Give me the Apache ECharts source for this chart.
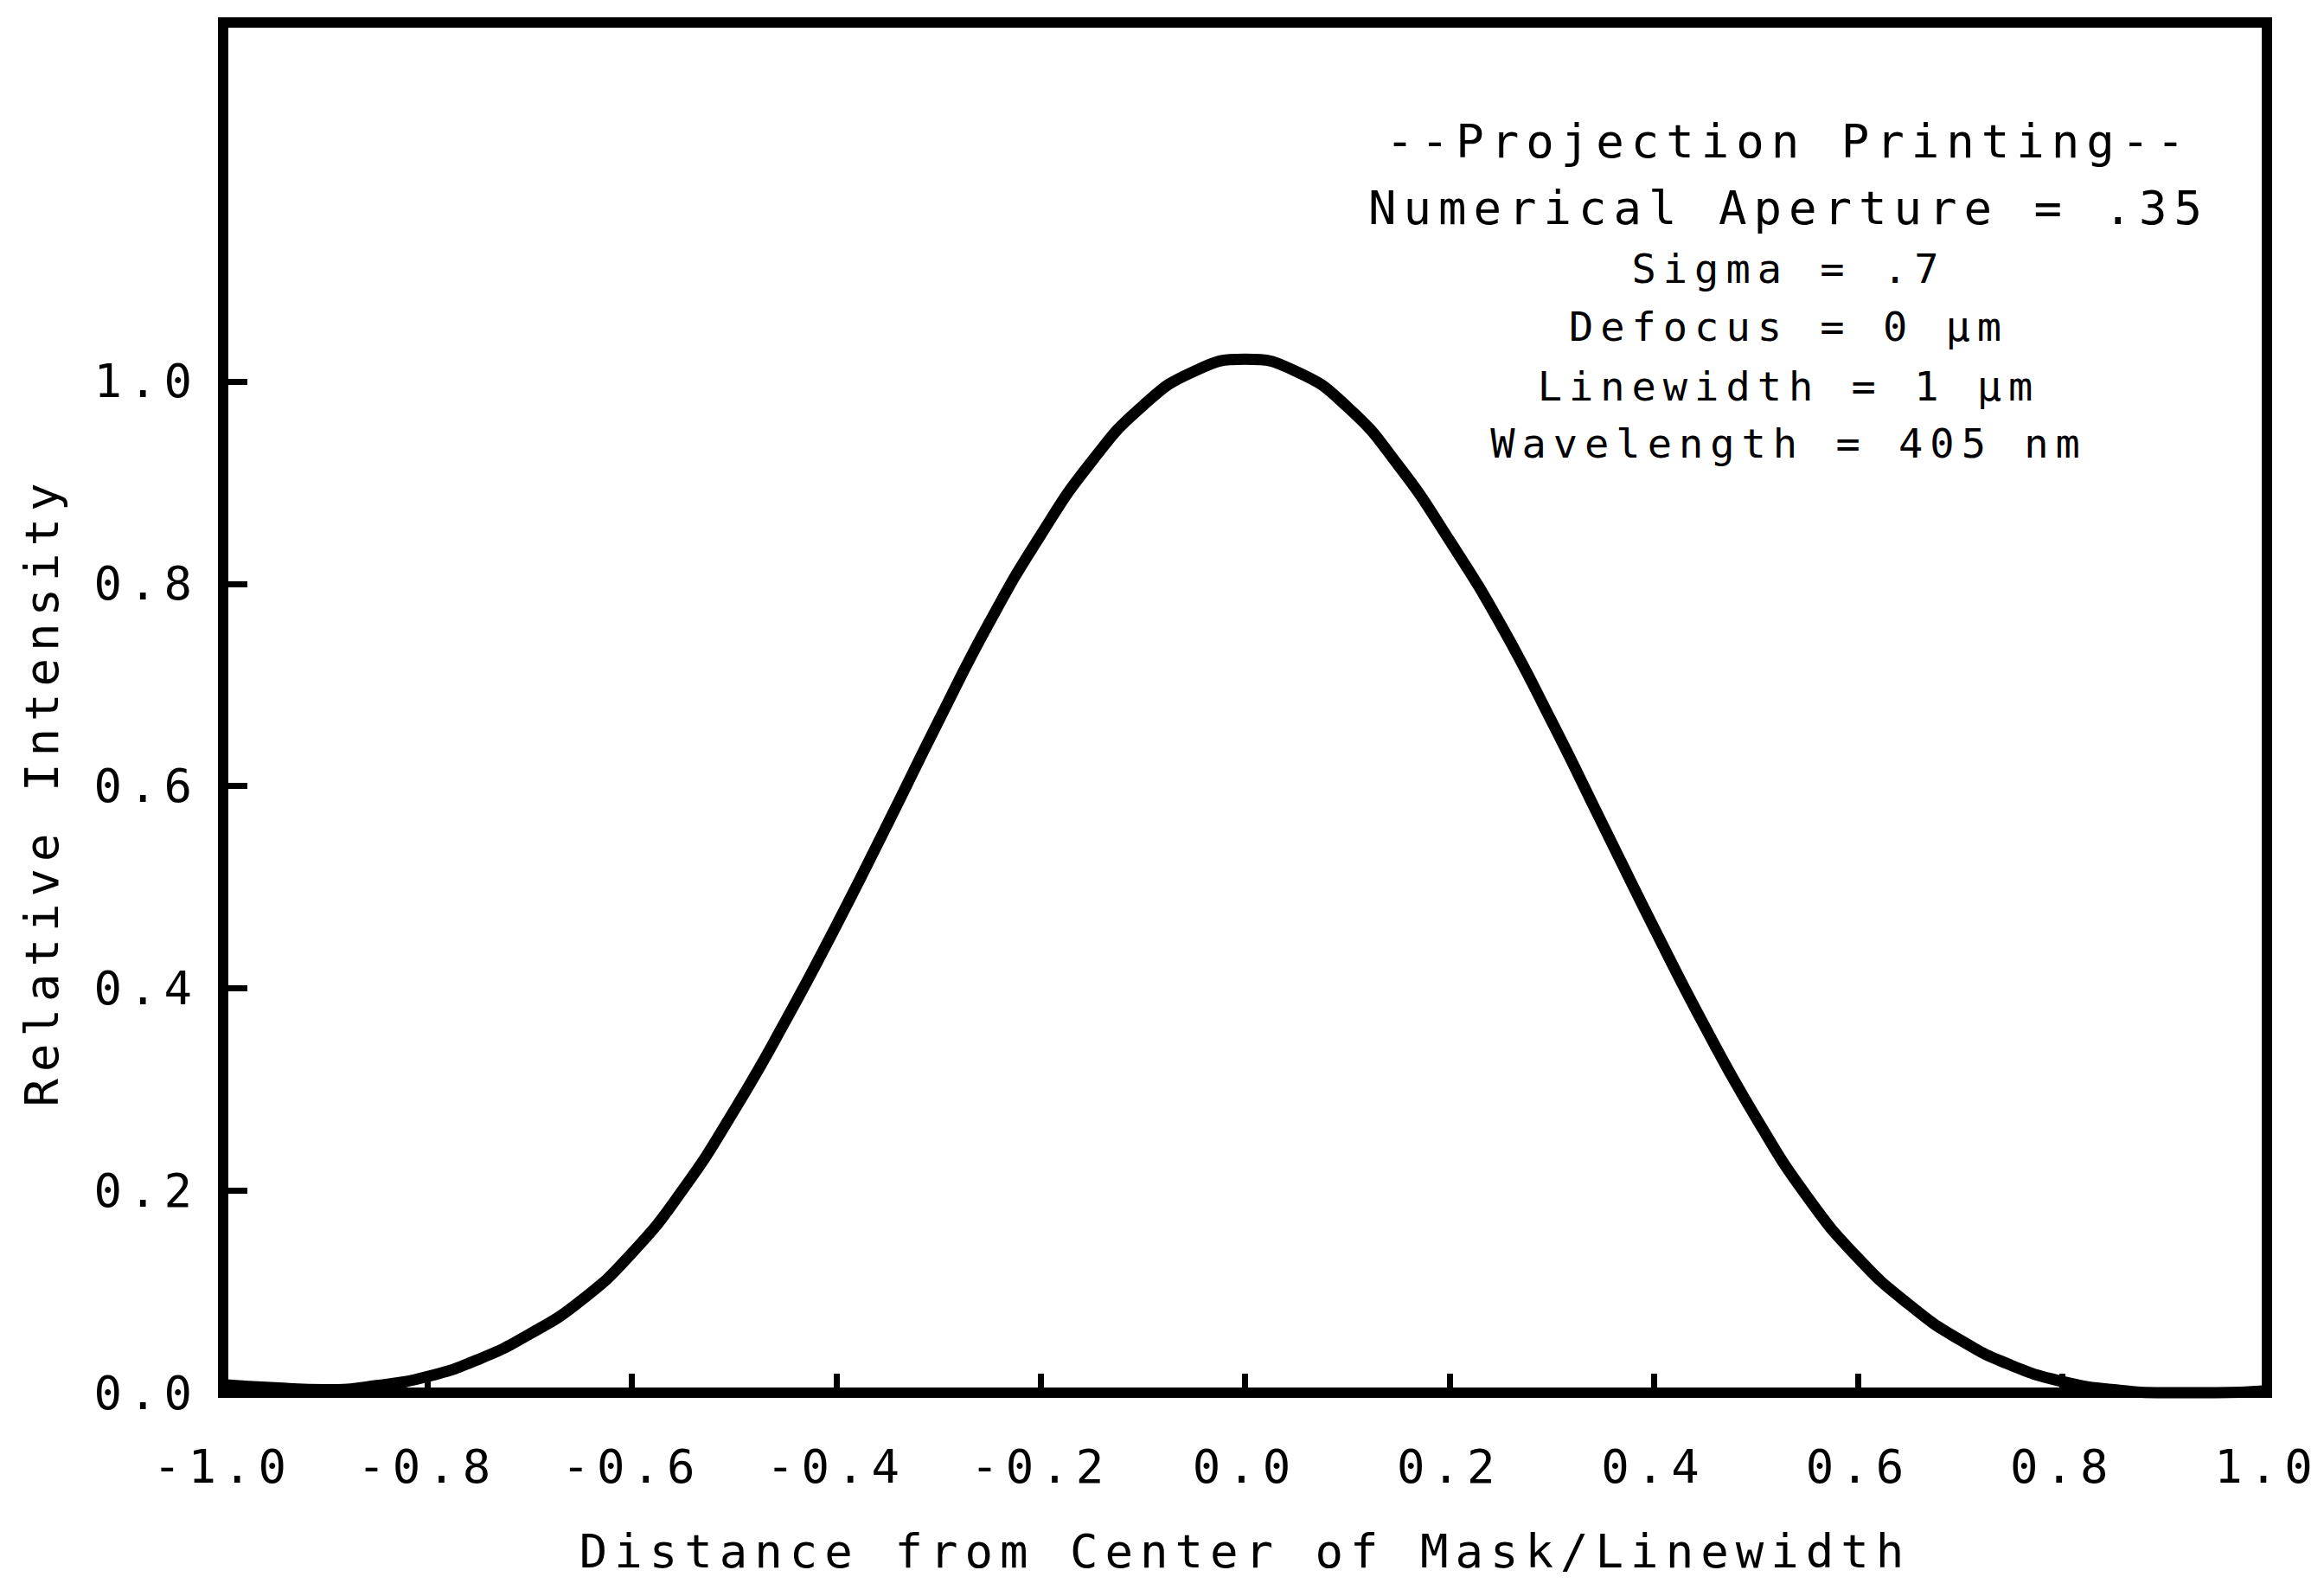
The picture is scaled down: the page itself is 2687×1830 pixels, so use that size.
<!DOCTYPE html>
<html>
<head>
<meta charset="utf-8" />
<title>Projection Printing - Relative Intensity</title>
<script src="https://cdn.jsdelivr.net/npm/echarts@6/dist/echarts.min.js"></script>
<style>
html, body { margin: 0; padding: 0; background: #fff; }
#main { width: 2687px; height: 1830px; }
/* plotter font is spaced out wide */
#main text { letter-spacing: 8px; }
</style>
</head>
<body>
<div id="main"></div>
<script>
// distance from center of mask / linewidth
var positions = [-1.00, -0.95, -0.90, -0.85, -0.80, -0.75, -0.70, -0.65, -0.60, -0.55,
                 -0.50, -0.45, -0.40, -0.35, -0.30, -0.25, -0.20, -0.15, -0.10, -0.05,
                  0.00,  0.05,  0.10,  0.15,  0.20,  0.25,  0.30,  0.35,  0.40,  0.45,
                  0.50,  0.55,  0.60,  0.65,  0.70,  0.75,  0.80,  0.85,  0.90,  0.95, 1.00];
// relative intensity
var intensity = [0.008, 0.005, 0.003, 0.007, 0.016, 0.033, 0.058, 0.091, 0.138, 0.201,
                 0.279, 0.367, 0.462, 0.562, 0.664, 0.762, 0.848, 0.921, 0.976, 1.010,
                 1.022, 1.010, 0.975, 0.917, 0.843, 0.760, 0.664, 0.562, 0.460, 0.362,
                 0.272, 0.194, 0.133, 0.087, 0.052, 0.027, 0.011, 0.003, 0.000, 0.000, 0.002];
var yTicks = [0, 0.2, 0.4, 0.6, 0.8, 1.0];
var noteLines = ['--Projection Printing--', 'Numerical Aperture = .35', 'Sigma = .7',
                 'Defocus = 0 \u03bcm', 'Linewidth = 1 \u03bcm', 'Wavelength = 405 nm'];
var noteY = [163, 240, 310, 377, 446, 512];
var noteSize = [54, 54, 47, 47, 47, 47];

var FONT = '"DejaVu Sans Mono", "Liberation Mono", monospace';
var FSIZE = 54;

var chart = echarts.init(document.getElementById('main'), null, { renderer: 'svg' });

var seriesData = [];
for (var i = 0; i < positions.length; i++) {
    seriesData.push([positions[i], intensity[i]]);
}

function fmt(v) {
    return (Math.round(v * 10) / 10).toFixed(1);
}

var graphics = [];
noteLines.forEach(function (t, k) {
    graphics.push({
        type: 'text', x: 2068, y: noteY[k],
        style: { text: t, fill: '#000', font: noteSize[k] + 'px ' + FONT, align: 'center', verticalAlign: 'middle' }
    });
});
graphics.push({
    type: 'text', x: 48, y: 915, rotation: Math.PI / 2,
    style: { text: 'Relative Intensity', fill: '#000', font: FSIZE + 'px ' + FONT, align: 'center', verticalAlign: 'middle' }
});

var option = {
    backgroundColor: '#fff',
    animation: false,
    grid: {
        left: 258, right: 66, top: 26, bottom: 220,
        show: true, borderColor: '#000', borderWidth: 12
    },
    xAxis: {
        type: 'value', min: -1, max: 1, interval: 0.2,
        name: 'Distance from Center of Mask/Linewidth',
        nameLocation: 'middle', nameGap: 156,
        nameTextStyle: { fontFamily: FONT, fontSize: FSIZE, color: '#000' },
        axisLine: { show: true, onZero: false, lineStyle: { color: '#000', width: 12 } },
        axisTick: { show: true, inside: true, length: 22, lineStyle: { color: '#000', width: 7 } },
        axisLabel: { margin: 58, fontFamily: FONT, fontSize: FSIZE, color: '#000', formatter: fmt },
        splitLine: { show: false }
    },
    yAxis: {
        type: 'value', min: 0, max: 1.355,
        axisLine: { show: true, onZero: false, lineStyle: { color: '#000', width: 12 } },
        axisTick: { show: true, inside: true, length: 28, customValues: yTicks, lineStyle: { color: '#000', width: 7 } },
        axisLabel: { margin: 28, fontFamily: FONT, fontSize: FSIZE, color: '#000', customValues: yTicks, formatter: fmt },
        splitLine: { show: false }
    },
    graphic: graphics,
    series: [{
        type: 'line',
        data: seriesData,
        smooth: true,
        showSymbol: false,
        clip: false,
        lineStyle: { color: '#000', width: 13 }
    }]
};

chart.setOption(option);
</script>
</body>
</html>
